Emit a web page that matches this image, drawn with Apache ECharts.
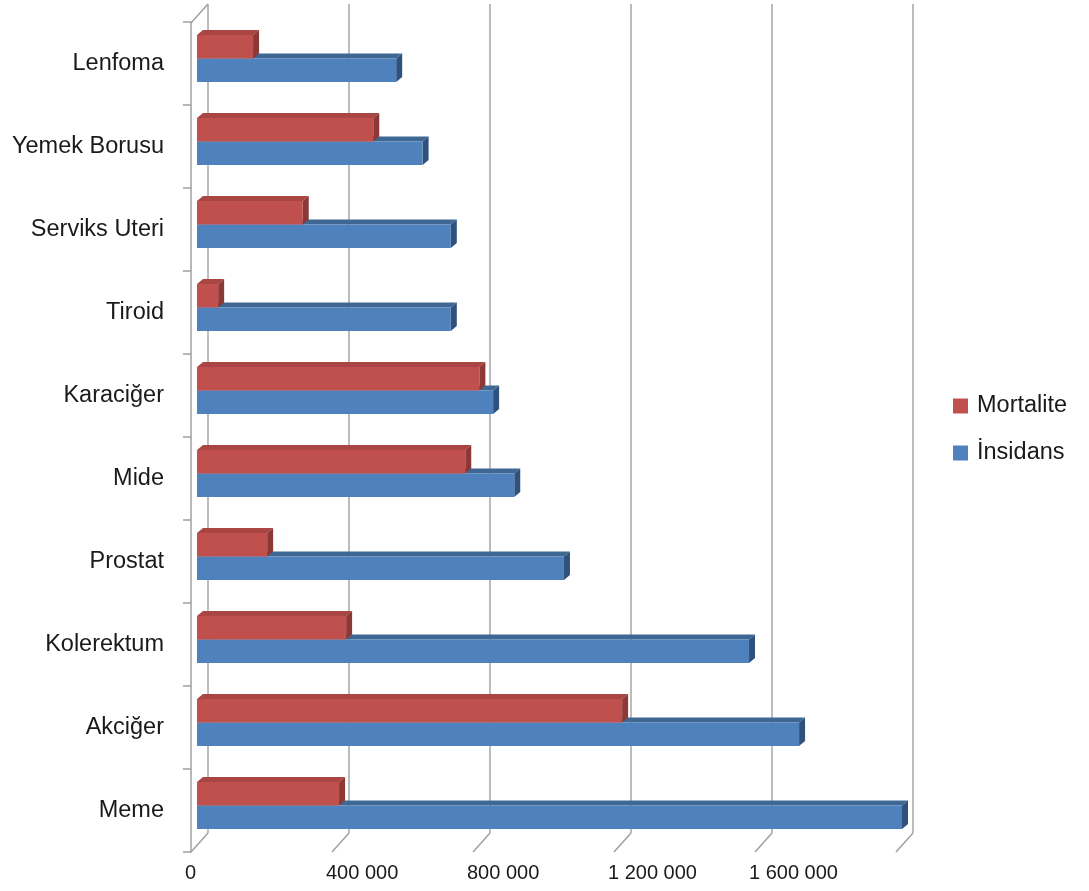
<!DOCTYPE html>
<html>
<head>
<meta charset="utf-8">
<script src="https://cdn.jsdelivr.net/npm/echarts@6/dist/echarts.min.js"></script>
<style>
  html, body { margin: 0; padding: 0; background: #ffffff; }
  #chart { width: 1089px; height: 891px; }
</style>
</head>
<body>
<div id="chart"></div>
<script>
// Cancer types, listed bottom to top
const categories = ['Meme', 'Akciğer', 'Kolerektum', 'Prostat', 'Mide', 'Karaciğer', 'Tiroid', 'Serviks Uteri', 'Yemek Borusu', 'Lenfoma'];
// Yearly deaths
const mortalite = [403000, 1206000, 423000, 199000, 761000, 801000, 60000, 300000, 500000, 159000];
// Yearly new cases
const insidans = [2000000, 1708000, 1566000, 1041000, 900000, 840000, 720000, 720000, 640000, 565000];
// Value axis ticks
const xTicks = [0, 400000, 800000, 1200000, 1600000, 2000000];

const FONT = "'Liberation Sans', Arial, sans-serif";
const X_MAX = xTicks[xTicks.length - 1];
const X_STEP = xTicks[1] - xTicks[0];

// Depth of the back wall relative to the front plane
const WALL_DX = -17, WALL_DY = 19;
// Bars sit a little behind the front plane and have their own depth
const BAR_SHIFT = 6, BAR_DX = 6, BAR_DY = 5;

function fmt(v) {
  return String(v).replace(/\B(?=(\d{3})+(?!\d))/g, ' ');
}

function bar3d(colors, topFrac, botFrac) {
  return function (params, api) {
    const v = api.value(0), c = api.value(1);
    const p0 = api.coord([0, c]);
    const p1 = api.coord([v, c]);
    const band = api.size([0, 1])[1];
    const x0 = p0[0] + BAR_SHIFT, x1 = p1[0] + BAR_SHIFT;
    const yT = p0[1] + band * topFrac, yB = p0[1] + band * botFrac;
    return {
      type: 'group',
      children: [
        { type: 'polygon', shape: { points: [[x0, yT], [x1, yT], [x1 + BAR_DX, yT - BAR_DY], [x0 + BAR_DX, yT - BAR_DY]] },
          style: { fill: colors.top } },
        { type: 'polygon', shape: { points: [[x1, yT], [x1 + BAR_DX, yT - BAR_DY], [x1 + BAR_DX, yB - BAR_DY], [x1, yB]] },
          style: { fill: colors.side } },
        { type: 'rect', shape: { x: x0, y: yT, width: x1 - x0, height: yB - yT },
          style: { fill: colors.front } }
      ]
    };
  };
}

const RED = { front: '#c0504d', top: '#a94643', side: '#8c3836' };
const BLUE = { front: '#4f81bd', top: '#3e6794', side: '#2f527c' };

const chart = echarts.init(document.getElementById('chart'), null, { renderer: 'canvas' });

chart.setOption({
  backgroundColor: '#ffffff',
  animation: false,
  legend: {
    orient: 'vertical',
    left: 948,
    top: 389,
    itemWidth: 15,
    itemHeight: 15,
    itemGap: 23,
    icon: 'rect',
    data: ['Mortalite', 'İnsidans'],
    textStyle: { fontFamily: FONT, fontSize: 23.5, color: '#1a1a1a', padding: [0, 0, 0, 4] }
  },
  grid: [
    // back wall carrying the gridlines
    { left: 208, top: 4, width: 705, height: 829 },
    // front plane carrying axes, labels and bars
    { left: 191, top: 22, width: 705, height: 830 }
  ],
  xAxis: [
    {
      gridIndex: 0, type: 'value', min: 0, max: X_MAX, interval: X_STEP,
      axisLine: { show: false }, axisTick: { show: false }, axisLabel: { show: false },
      splitLine: { show: true, lineStyle: { color: '#a6a6a6', width: 1.5 } }
    },
    {
      gridIndex: 1, type: 'value', min: 0, max: X_MAX, interval: X_STEP,
      axisLine: { show: false }, axisTick: { show: false }, splitLine: { show: false },
      axisLabel: {
        show: true, align: 'left', margin: 11, showMaxLabel: false,
        fontFamily: FONT, fontSize: 20, color: '#1a1a1a',
        padding: [0, 0, 0, -6],
        formatter: fmt
      }
    }
  ],
  yAxis: [
    {
      gridIndex: 0, type: 'value', min: 0, max: 1, show: false
    },
    {
      gridIndex: 1, type: 'category', data: categories,
      axisLine: { show: true, lineStyle: { color: '#a0a0a0', width: 1.5 } },
      axisTick: { show: true, length: 8, lineStyle: { color: '#a0a0a0', width: 1.5 } },
      splitLine: { show: false },
      axisLabel: { margin: 27, fontFamily: FONT, fontSize: 23.5, color: '#1a1a1a' }
    }
  ],
  series: [
    {
      // slanted depth lines joining the back wall to the front plane
      name: 'frame', type: 'custom', xAxisIndex: 0, yAxisIndex: 0, silent: true, clip: false,
      data: xTicks.map(function (t) { return [t, 0]; }).concat([[0, 1]]),
      renderItem: function (params, api) {
        const p = api.coord([api.value(0), api.value(1)]);
        return {
          type: 'line',
          shape: { x1: p[0], y1: p[1], x2: p[0] + WALL_DX, y2: p[1] + WALL_DY },
          style: { stroke: '#a0a0a0', lineWidth: 1.5 }
        };
      },
      z: 1
    },
    {
      name: 'İnsidans', type: 'custom', xAxisIndex: 1, yAxisIndex: 1, clip: false,
      itemStyle: { color: BLUE.front },
      data: insidans.map(function (v, i) { return [v, i]; }),
      renderItem: bar3d(BLUE, -0.060, 0.223),
      z: 3
    },
    {
      name: 'Mortalite', type: 'custom', xAxisIndex: 1, yAxisIndex: 1, clip: false,
      itemStyle: { color: RED.front },
      data: mortalite.map(function (v, i) { return [v, i]; }),
      renderItem: bar3d(RED, -0.343, -0.060),
      z: 4
    }
  ]
});
</script>
</body>
</html>
